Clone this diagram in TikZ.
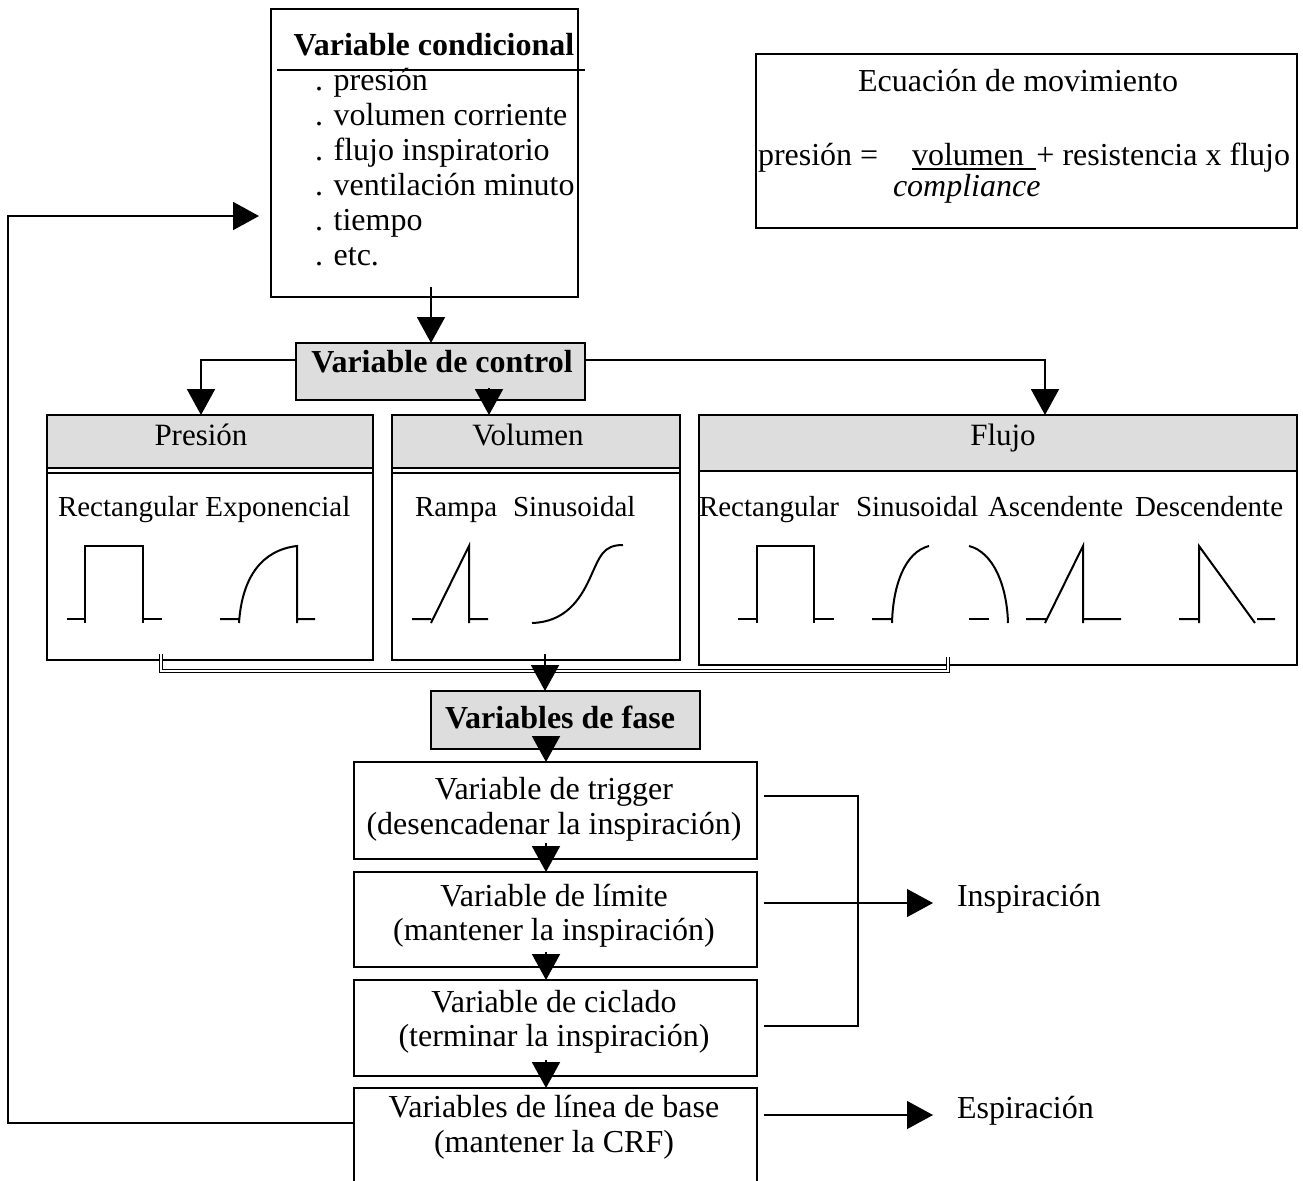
\documentclass[tikz,border=0pt]{standalone}
\usepackage{fontspec}
\setmainfont{Liberation Serif}
\usetikzlibrary{arrows.meta,calc,fit}
\definecolor{hdr}{HTML}{DDDDDD}
\begin{document}
\begin{tikzpicture}[x=0.5pt,y=-0.5pt,
  every node/.style={inner sep=0pt, outer sep=0pt},
  frame/.style={draw, line width=1pt, inner sep=0pt},
  hbox/.style={frame, fill=hdr},
  txt/.style={font=\fontsize{16}{19}\selectfont, anchor=base},
  txtl/.style={font=\fontsize{16}{19}\selectfont, anchor=base west},
  lbl/.style={font=\fontsize{14.5}{17}\selectfont, anchor=base west},
  hd/.style={font=\fontsize{15.5}{18}\selectfont, anchor=base},
  wave/.style={line width=1pt},
  conn/.style={line width=1pt},
  arr/.style={line width=1pt, -{Triangle[width=14pt,length=13pt]}},
  thinarr/.style={line width=0.6pt, -{Triangle[width=14pt,length=13pt]}}
]
\useasboundingbox (0,0) rectangle (1303,1180);
\clip (0,0) rectangle (1303,1180);

% ---- top box: Variable condicional
\node[frame, fit={(271,9) (578,297)}] (cond) {};
\node[txt, font=\fontsize{16}{19}\selectfont\bfseries] (condt) at (434,55) {Variable condicional};
\draw[conn] ($(cond.north west)+(6,61)$) -- ++(308,0);
\node[txtl] (c1) at (315,90) {. presión};
\node[txtl] (c2) at (315,125) {. volumen corriente};
\node[txtl] (c3) at (315,160) {. flujo inspiratorio};
\node[txtl] (c4) at (315,195) {. ventilación minuto};
\node[txtl] (c5) at (315,230) {. tiempo};
\node[txtl] (c6) at (315,265) {. etc.};

% ---- equation box
\node[frame, fit={(756,54) (1297,228)}] (eq) {};
\node[txt] (eq1) at (1018,91) {Ecuación de movimiento};
\node[txtl] (eq2) at (758,165) {presión =};
\node[txtl] (eq3) at (912,165) {volumen};
\draw[line width=0.8pt] (912,169) -- (1036,169);
\node[txt, anchor=base east] (eq4) at (1290,165) {+ resistencia x flujo};
\node[txtl, font=\fontsize{16}{19}\selectfont\itshape] (eq5) at (893,196) {compliance};

% ---- Variable de control
\node[hbox, fit={(296,343) (585,400)}] (ctrl) {};
\node[txt, font=\fontsize{16}{19}\selectfont\bfseries] (ctrlt) at (442,372) {Variable de control};

% ---- panels
\node[frame, fit={(47,415) (373,660)}] (pres) {};
\node[hbox, fit={(47,415) (373,468)}] (presH) {};
\draw[conn] ($(presH.south west)+(0,5)$) -- ($(presH.south east)+(0,5)$);
\node[hd] (presT) at (201,445) {Presión};

\node[frame, fit={(392,415) (680,660)}] (vol) {};
\node[hbox, fit={(392,415) (680,468)}] (volH) {};
\draw[conn] ($(volH.south west)+(0,5)$) -- ($(volH.south east)+(0,5)$);
\node[hd] (volT) at (528,445) {Volumen};

\node[frame, fit={(699,415) (1297,665)}] (flu) {};
\node[hbox, line width=1.4pt, fit={(699,415) (1297,471)}] (fluH) {};
\node[hd] (fluT) at (1003,445) {Flujo};

% labels
\node[lbl] (l1) at (58,516) {Rectangular Exponencial};
\node[lbl] (l2) at (415,516) {Rampa};
\node[lbl] (l3) at (513,516) {Sinusoidal};
\node[lbl] (l4) at (699,516) {Rectangular};
\node[lbl] (l5) at (856,516) {Sinusoidal};
\node[lbl] (l6) at (988,516) {Ascendente};
\node[lbl] (l7) at (1135,516) {Descendente};

% waveforms - presion
\draw[wave] (67,619) -- (85,619) (85,623) -- (85,546) -- (143,546) -- (143,623) (143,619) -- (162,619);
\draw[wave] (220,619) -- (239,619) (239,623) .. controls (242,577) and (262,550) .. (297,546) -- (297,623) (297,619) -- (315,619);
% volumen
\draw[wave] (412,619) -- (431,619) (431,623) -- (469,546) -- (469,623) (469,619) -- (488,619);
\draw[wave] (532,623) .. controls (565,622) and (580,600) .. (590,578) .. controls (600,556) and (603,545) .. (623,545);
% flujo
\draw[wave] (738,619) -- (757,619) (757,623) -- (757,546) -- (814,546) -- (814,623) (814,619) -- (834,619);
\draw[wave] (872,619) -- (892,619) (892,623) .. controls (893,585) and (905,552) .. (929,546);
\draw[wave] (969,546) .. controls (993,552) and (1007,585) .. (1008,623);
\draw[wave] (969,619) -- (989,619);
\draw[wave] (1026,619) -- (1046,619) (1045,623) -- (1083,546) -- (1083,623) (1084,619) -- (1121,619);
\draw[wave] (1179,619) -- (1199,619) (1199,623) -- (1199,546) -- (1255,623) (1257,619) -- (1275,619);

% ---- Variables de fase and phase boxes
\node[hbox, fit={(431,691) (700,749)}] (fase) {};
\node[txt, font=\fontsize{16}{19}\selectfont\bfseries] (faset) at (560,728) {Variables de fase};

\node[frame, fit={(354,762) (757,859)}] (trig) {};
\node[txt] at (554,799) {Variable de trigger};
\node[txt] at (554,834) {(desencadenar la inspiración)};
\node[frame, fit={(354,872) (757,967)}] (lim) {};
\node[txt] at (554,906) {Variable de límite};
\node[txt] at (554,940) {(mantener la inspiración)};
\node[frame, fit={(354,980) (757,1076)}] (cic) {};
\node[txt] at (554,1012) {Variable de ciclado};
\node[txt] at (554,1046) {(terminar la inspiración)};
\node[frame, fit={(354,1088) (757,1200)}] (base) {};
\node[txt] at (554,1117) {Variables de línea de base};
\node[txt] at (554,1152) {(mantener la CRF)};

\node[txtl] (insp) at (957,906) {Inspiración};
\node[txtl] (esp) at (957,1118) {Espiración};

% ---- connectors
\coordinate (a1) at ($(cond.south)+(6.5,-10)$);
\draw[arr] (a1) -- (a1 |- ctrl.north);
\draw[arr] ($(ctrl.west)+(0,-11.5)$) -| ($(presH.north)+(-9,0)$);
\draw[arr] ($(ctrl.east)+(0,-11.5)$) -| ($(fluH.north)+(47,0)$);
\draw[arr] ($(volH.north)+(-47,-27)$) -- ($(volH.north)+(-47,0)$);

\draw[line width=0.8pt, double, double distance=0.6pt] ($(pres.south)+(-49,-6)$) |- ($(flu.south)+(-50,6)$) -- ($(flu.south)+(-50,-8)$);
\coordinate (m1) at ($(vol.south)+(9,-6)$);
\draw[arr] (m1) -- (m1 |- fase.north);
\coordinate (m2) at ($(fase.south)+(-19.5,-13)$);
\draw[arr] (m2) -- (m2 |- trig.north);
\coordinate (m3) at ($(trig.south)+(-9.5,-16)$);
\draw[arr] (m3) -- (m3 |- lim.north);
\coordinate (m4) at ($(lim.south)+(-9.5,-15)$);
\draw[arr] (m4) -- (m4 |- cic.north);
\coordinate (m5) at ($(cic.south)+(-9.5,-16)$);
\draw[arr] (m5) -- (m5 |- base.north);

\draw[conn] ($(trig.east)+(7,-14.5)$) -| ($(cic.east)+(101,-2)$) -- ($(cic.east)+(7,-2)$);
\draw[conn] ($(lim.east)+(7,-16.5)$) -- ++(94,0) coordinate (j1);
\draw[thinarr, shorten >=12pt] (j1) -- (j1 -| insp.west);
\coordinate (j2) at ($(base.east)+(7,-29)$);
\draw[thinarr, shorten >=12pt] (j2) -- (j2 -| esp.west);

\coordinate (r1) at ($(base.west)+(0,-21)$);
\draw[arr] (r1) -- ++(-346,0) |- ($(cond.west)+(-12,63)$);
\end{tikzpicture}
\end{document}
